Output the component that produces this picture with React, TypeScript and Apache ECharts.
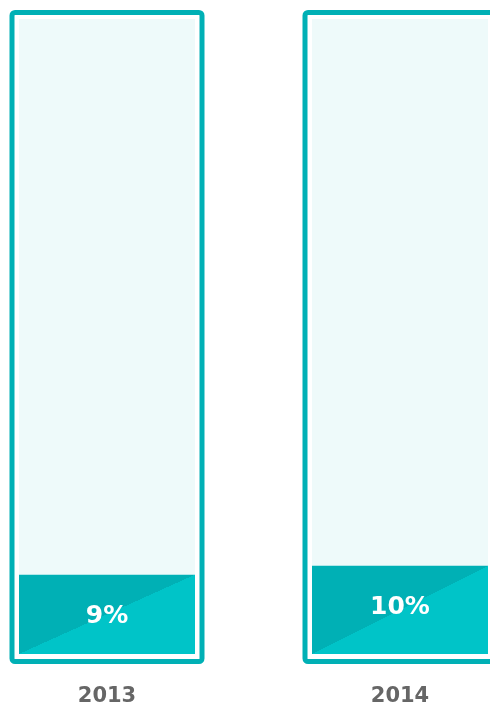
import React, { useEffect, useRef } from "react";
import * as echarts from "echarts";

const categories = ["2013", "2014"];
const values = [9, 10];
const yMax = 72;

const DARK = "#00b0b5";
const LIGHT = "#00c4c8";
const TRACK = "#eefafa";
const FRAME = "#00b0b5";

export default function App() {
  const ref = useRef<HTMLDivElement>(null);
  useEffect(() => {
    if (!ref.current) return;
    const chart = echarts.init(ref.current, undefined, { renderer: "svg" });
    chart.setOption({
      animation: false,
      grid: [
        { left: -39.5, width: 586, top: 19, bottom: 54, outerBoundsMode: "none", containLabel: false },
        { left: -39.5, width: 586, top: 10, bottom: 44, outerBoundsMode: "none", containLabel: false },
      ],
      xAxis: [
        {
          type: "category",
          gridIndex: 0,
          data: categories,
          axisLine: { show: false },
          axisTick: { show: false },
          axisLabel: {
            margin: 30,
            fontSize: 21,
            fontWeight: "bold",
            fontFamily: "DejaVu Sans",
            color: "#666666",
          },
        },
        {
          type: "category",
          gridIndex: 1,
          data: categories,
          show: false,
        },
      ],
      yAxis: [
        { type: "value", gridIndex: 0, min: 0, max: yMax, show: false },
        { type: "value", gridIndex: 1, min: 0, max: yMax, show: false },
      ],
      series: [
        {
          type: "bar",
          xAxisIndex: 1,
          yAxisIndex: 1,
          barWidth: 195,
          clip: false,
          data: categories.map(() => yMax),
          silent: true,
          itemStyle: {
            color: "rgba(0,0,0,0)",
            borderColor: FRAME,
            borderWidth: 5,
            borderRadius: 3,
          },
        },
        {
          type: "bar",
          xAxisIndex: 0,
          yAxisIndex: 0,
          barWidth: 176,
          data: values,
          showBackground: true,
          backgroundStyle: { color: TRACK },
          itemStyle: {
            color: new echarts.graphic.LinearGradient(0, 0, 1, 1, [
              { offset: 0, color: DARK },
              { offset: 0.5, color: DARK },
              { offset: 0.5, color: LIGHT },
              { offset: 1, color: LIGHT },
            ]),
          },
          label: {
            show: true,
            position: "insideTop",
            distance: 27,
            formatter: "{c}%",
            color: "#ffffff",
            fontSize: 25,
            fontWeight: "bold",
            fontFamily: "DejaVu Sans",
          },
        },
      ],
    });
    return () => chart.dispose();
  }, []);
  return (
    <div
      ref={ref}
      style={{ position: "fixed", left: 0, top: 0, width: 490, height: 708 }}
    />
  );
}
